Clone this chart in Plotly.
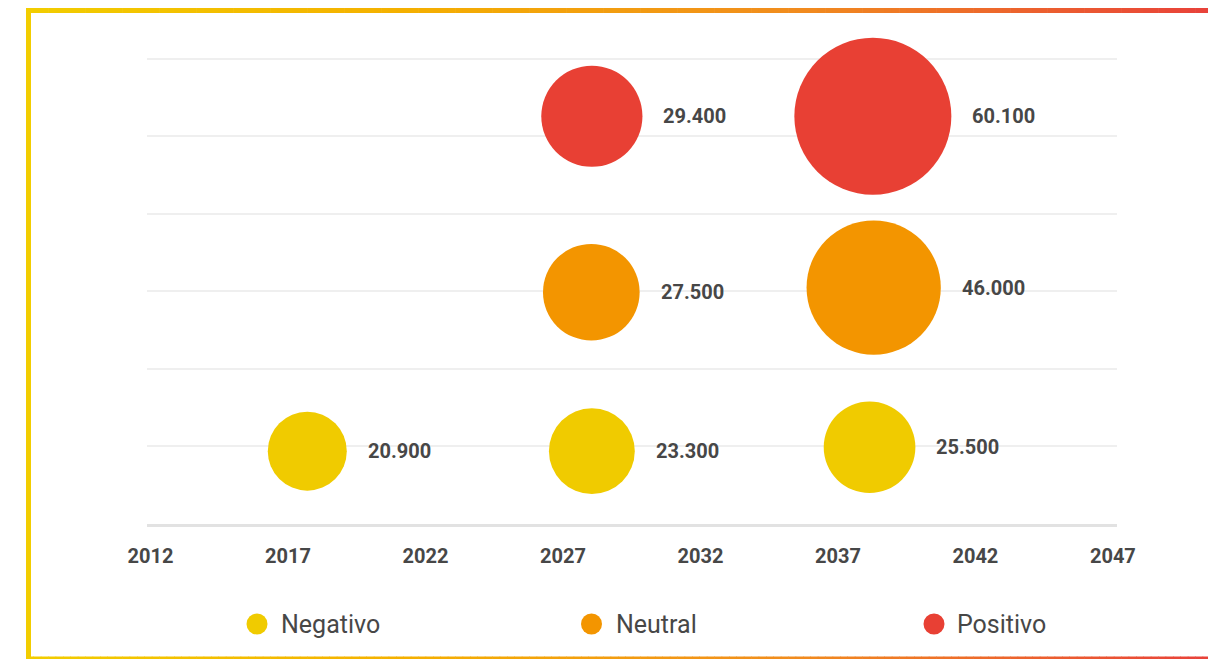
import plotly.graph_objects as go

# ---------------- data ----------------
series_names = ["Negativo", "Neutral", "Positivo"]
series_colors = ["#f0cb00", "#f39500", "#e84034"]

neg_x = [2017.7, 2028.05, 2038.15]
neg_y = [0.94, 0.94, 0.99]
neg_v = [20900, 23300, 25500]

neu_x = [2028.03, 2038.3]
neu_y = [2.99, 3.05]
neu_v = [27500, 46000]

pos_x = [2028.05, 2038.27]
pos_y = [5.26, 5.26]
pos_v = [29400, 60100]

tick_years = [2012, 2017, 2022, 2027, 2032, 2037, 2042, 2047]

# ---------------- layout constants ----------------
W, H = 1208, 659
ML, MR, MT, MB = 147, 91, 55, 135
PW, PH = W - ML - MR, H - MT - MB
TXT = "#474747"
YMAX = 6.05


def px_x(px):
    return (px - ML) / PW


def px_y(py):
    return (H - MB - py) / PH


all_v = neg_v + neu_v + pos_v
zmin, zmax = min(all_v), max(all_v)
MIN_D, MAX_D = 79, 157


def diam(v):
    pos = (v - zmin) / (zmax - zmin)
    return (MIN_D ** 2 + pos * (MAX_D ** 2 - MIN_D ** 2)) ** 0.5


def fmt(v):
    return f"{v:,}".replace(",", ".")


fig = go.Figure()
annotations = []
series = [(neg_x, neg_y, neg_v), (neu_x, neu_y, neu_v), (pos_x, pos_y, pos_v)]
for name, color, (xs, ys, vs) in zip(series_names, series_colors, series):
    sizes = [diam(v) for v in vs]
    fig.add_trace(go.Scatter(
        x=xs, y=ys, mode="markers", name=name, showlegend=False,
        marker=dict(size=sizes, sizemode="diameter", sizeref=1, color=color,
                    opacity=1, line=dict(width=0)),
        cliponaxis=False, hoverinfo="skip",
    ))
    for x, y, v, d in zip(xs, ys, vs, sizes):
        annotations.append(dict(
            x=x, y=y, xref="x", yref="y", text=fmt(v), showarrow=False,
            xanchor="left", yanchor="middle", xshift=d / 2 + 19,
            font=dict(family="Roboto", size=20, color=TXT, weight="bold"),
        ))

shapes = []
# legend
legend_mx = [257, 591.5, 934]
legend_tx = [279, 614, 955]
LEG_Y = 624
for name, color, mx, tx in zip(series_names, series_colors, legend_mx, legend_tx):
    shapes.append(dict(
        type="circle", xref="paper", yref="paper", xsizemode="pixel", ysizemode="pixel",
        xanchor=px_x(mx), yanchor=px_y(LEG_Y), x0=-10.5, x1=10.5, y0=-10.5, y1=10.5,
        fillcolor=color, line=dict(width=0),
    ))
    annotations.append(dict(
        x=px_x(tx), y=px_y(LEG_Y), xref="paper", yref="paper", text=name,
        showarrow=False, xanchor="left", yanchor="middle",
        font=dict(family="Roboto", size=25, color=TXT),
    ))

# gradient frame
stops = [(0.0, (242, 205, 0)), (0.32, (244, 176, 0)), (0.65, (241, 140, 30)), (1.0, (232, 65, 58))]


def grad(p):
    for (p0, c0), (p1, c1) in zip(stops[:-1], stops[1:]):
        if p0 <= p <= p1:
            t = (p - p0) / (p1 - p0)
            return "rgb(%d,%d,%d)" % tuple(round(a + (b - a) * t) for a, b in zip(c0, c1))
    return "rgb(%d,%d,%d)" % stops[-1][1]


X0, X1 = 26, W + 2
N = 160
for i in range(N):
    a = X0 + (X1 - X0) * i / N
    b = X0 + (X1 - X0) * (i + 1) / N + 0.6
    c = grad((i + 0.5) / N)
    for (ya, yb) in [(8, 13), (656.5, 662)]:
        shapes.append(dict(type="rect", xref="paper", yref="paper",
                           x0=px_x(a), x1=px_x(b), y0=px_y(yb), y1=px_y(ya),
                           fillcolor=c, line=dict(width=0), layer="above"))
shapes.append(dict(type="rect", xref="paper", yref="paper",
                   x0=px_x(26), x1=px_x(31), y0=px_y(662), y1=px_y(8),
                   fillcolor="rgb(242,205,0)", line=dict(width=0), layer="above"))

fig.update_layout(
    width=W, height=H,
    margin=dict(l=ML, r=MR, t=MT, b=MB, pad=0),
    paper_bgcolor="white", plot_bgcolor="white",
    showlegend=False,
    xaxis=dict(
        range=[2011.87, 2047.15], tickmode="array", tickvals=tick_years,
        ticktext=[str(t) for t in tick_years], showgrid=False, zeroline=False,
        showline=True, linecolor="#e2e2e2", linewidth=3, ticks="",
        tickfont=dict(family="Roboto", size=20, color=TXT, weight="bold"),
        ticklabelstandoff=12,
    ),
    yaxis=dict(
        range=[0, YMAX], tickmode="array", tickvals=[0, 1, 2, 3, 4, 5, 6],
        showgrid=True, gridcolor="#efefef",
        gridwidth=2, zeroline=False, showticklabels=False, ticks="", showline=False,
    ),
    annotations=annotations,
    shapes=shapes,
)

fig.write_html("out.html", config={"displayModeBar": False},
               post_script="document.body.style.margin='0';")
